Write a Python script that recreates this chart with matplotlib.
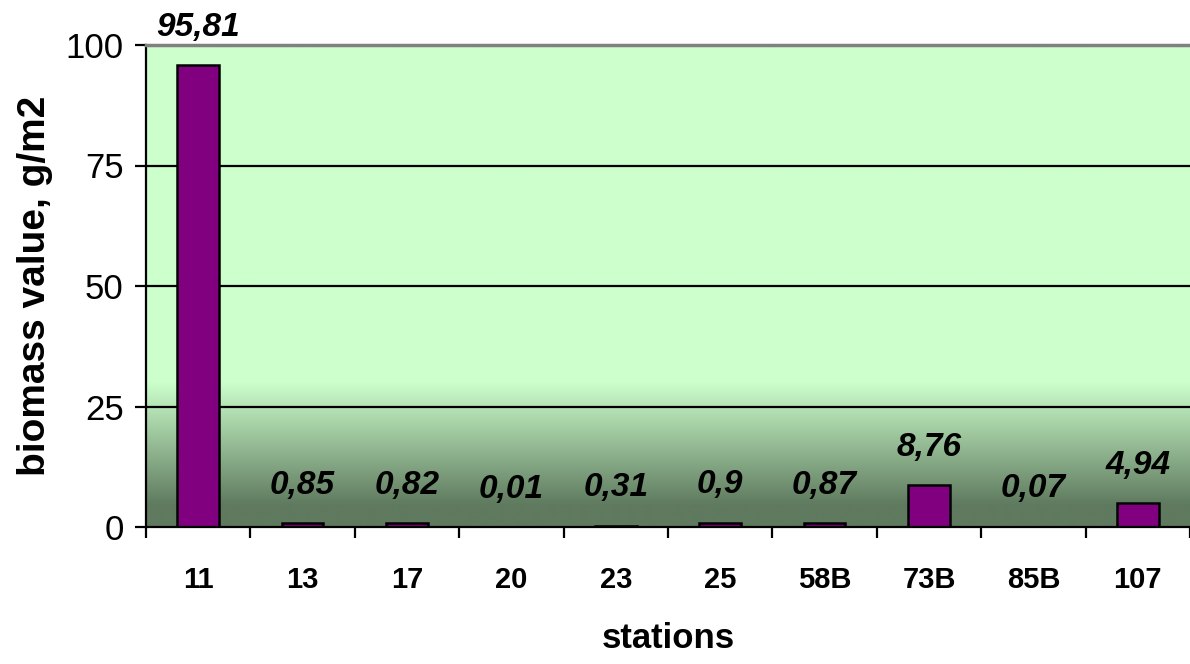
import numpy as np
import matplotlib.pyplot as plt
import matplotlib as mpl

mpl.rcParams.update({
    "font.family": ["Liberation Sans", "DejaVu Sans"],
})

stations = ["11", "13", "17", "20", "23", "25", "58B", "73B", "85B", "107"]
biomass = [95.81, 0.85, 0.82, 0.01, 0.31, 0.9, 0.87, 8.76, 0.07, 4.94]
value_labels = ["95,81", "0,85", "0,82", "0,01", "0,31", "0,9", "0,87", "8,76", "0,07", "4,94"]
yticks = [0, 25, 50, 75, 100]

fig = plt.figure(figsize=(11.9, 6.64), dpi=100)
ax = fig.add_axes([146 / 1190, 1 - 527 / 664, 1 - 146 / 1190, (527 - 45) / 664])

n = len(stations)
x = np.arange(n)

# background gradient: light green above ~29, darkening towards the bottom
light = np.array([204, 255, 204]) / 255
dark = np.array([95, 122, 95]) / 255
vals = np.linspace(0, 100, 500)
t = np.clip((vals - 4.5) / (30 - 4.5), 0, 1)
grad = dark[None, :] * (1 - t[:, None]) + light[None, :] * t[:, None]
ax.imshow(grad[:, None, :], extent=[-0.5, n - 0.5, 0, 100], origin="lower",
          aspect="auto", zorder=0, interpolation="bilinear")

for yv in yticks[1:-1]:
    ax.axhline(yv, color="black", lw=1.6, zorder=1)

ax.bar(x, biomass, width=0.4, color="#800080", edgecolor="black", lw=1.8, zorder=2)

for xi, v, lab in zip(x, biomass, value_labels):
    ax.annotate(lab, (xi, v), xytext=(0, 16), textcoords="offset points",
                ha="center", va="bottom", fontsize=24, fontweight="bold",
                fontstyle="italic", zorder=3)

ax.set_xlim(-0.5, n - 0.5)
ax.set_ylim(0, 100)
ax.set_yticks(yticks)
ax.tick_params(axis="y", labelsize=25, length=8, width=1.6, direction="out", pad=8)

ax.set_xticks(np.arange(n + 1) - 0.5)
ax.set_xticklabels([])
ax.set_xticks(x, minor=True)
ax.set_xticklabels(stations, minor=True, fontsize=21, fontweight="bold")
ax.tick_params(axis="x", which="major", length=8, width=1.6, direction="out")
ax.tick_params(axis="x", which="minor", length=0, pad=28)

ax.spines["right"].set_visible(False)
ax.spines["top"].set_color("#808080")
ax.spines["top"].set_linewidth(2.5)
ax.spines["left"].set_linewidth(1.6)
ax.spines["bottom"].set_linewidth(1.6)

ax.set_xlabel("stations", fontsize=25, fontweight="bold", labelpad=20)
ax.set_ylabel("biomass value, g/m2", fontsize=28, fontweight="bold", labelpad=9)

fig.savefig("out.png", dpi=100)
